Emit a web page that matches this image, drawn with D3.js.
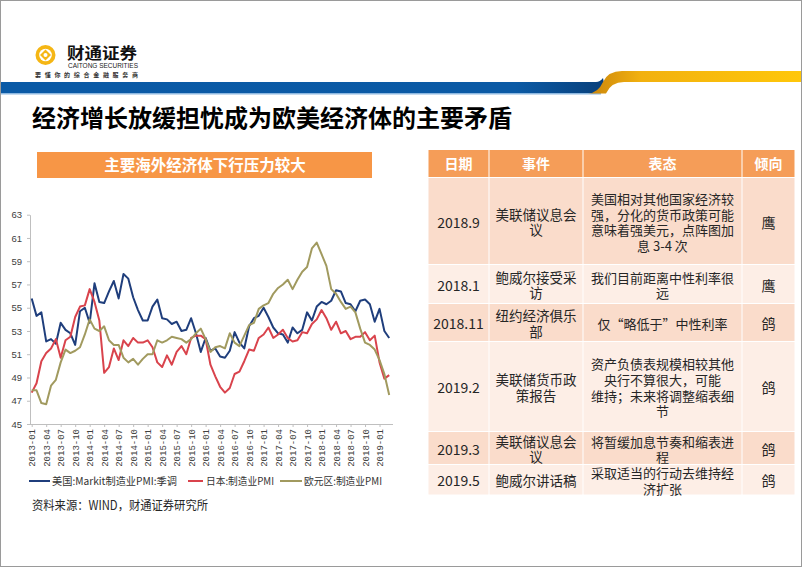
<!DOCTYPE html>
<html><head><meta charset="utf-8">
<script src="https://cdn.jsdelivr.net/npm/d3@7"></script>
<style>html,body{margin:0;padding:0;background:#fff;}svg{display:block;}</style>
</head><body><svg id="c" width="802" height="567"></svg>
<script>
// ---------- DATA ----------
const months = [
"2013-01","2013-02","2013-03","2013-04","2013-05","2013-06","2013-07","2013-08","2013-09","2013-10","2013-11","2013-12",
"2014-01","2014-02","2014-03","2014-04","2014-05","2014-06","2014-07","2014-08","2014-09","2014-10","2014-11","2014-12",
"2015-01","2015-02","2015-03","2015-04","2015-05","2015-06","2015-07","2015-08","2015-09","2015-10","2015-11","2015-12",
"2016-01","2016-02","2016-03","2016-04","2016-05","2016-06","2016-07","2016-08","2016-09","2016-10","2016-11","2016-12",
"2017-01","2017-02","2017-03","2017-04","2017-05","2017-06","2017-07","2017-08","2017-09","2017-10","2017-11","2017-12",
"2018-01","2018-02","2018-03","2018-04","2018-05","2018-06","2018-07","2018-08","2018-09","2018-10","2018-11","2018-12",
"2019-01","2019-02","2019-03"];
const tickLabels = ["2013-01","2013-04","2013-07","2013-10","2014-01","2014-04","2014-07","2014-10",
"2015-01","2015-04","2015-07","2015-10","2016-01","2016-04","2016-07","2016-10",
"2017-01","2017-04","2017-07","2017-10","2018-01","2018-04","2018-07","2018-10","2019-01"];
const usPMI = [55.8,54.3,54.6,52.1,52.3,51.9,53.7,53.1,52.8,51.8,54.7,55.0,
53.7,57.1,55.5,55.4,56.4,57.3,55.8,57.9,57.5,55.9,54.8,53.9,
53.9,55.1,55.7,54.1,54.0,53.6,53.8,53.0,53.1,54.1,52.8,51.2,
52.4,51.3,51.5,50.8,50.7,51.3,52.9,52.0,51.5,53.4,54.1,54.3,
55.0,54.2,53.3,52.8,52.7,52.0,53.3,52.8,53.1,54.6,53.9,55.1,
55.5,55.3,55.6,56.5,56.4,55.4,55.3,54.7,55.6,55.7,55.3,53.8,
54.9,53.0,52.4];
const jpPMI = [47.7,48.5,50.4,51.1,51.5,52.3,50.7,52.2,52.5,54.2,55.1,55.2,
56.6,55.5,53.9,49.4,49.9,51.5,50.5,52.2,51.7,52.4,52.0,52.0,
52.2,51.6,50.3,49.9,50.9,50.1,51.2,51.7,51.0,52.4,52.6,52.6,
52.3,50.1,49.1,48.2,47.7,48.1,49.3,49.5,50.4,51.4,51.3,52.4,
52.7,53.3,52.4,52.7,53.1,52.4,52.1,52.2,52.9,52.8,53.6,54.0,
54.8,54.1,53.1,53.8,52.8,53.0,52.3,52.5,52.5,52.9,52.2,52.6,
50.3,48.9,49.2];
const euPMI = [47.9,47.9,46.8,46.7,48.3,48.8,50.3,51.4,51.1,51.3,51.6,52.7,
54.0,53.2,53.0,53.4,52.2,51.8,51.8,50.7,50.3,50.6,50.1,50.6,
51.0,51.0,52.2,52.0,52.2,52.5,52.4,52.3,52.0,52.3,52.8,53.2,
52.3,51.2,51.6,51.7,51.5,52.8,52.0,51.7,52.6,53.5,53.7,54.9,
55.2,55.4,56.2,56.7,57.0,57.4,56.6,57.4,58.1,58.5,60.1,60.6,
59.6,58.6,56.6,56.2,55.5,54.9,55.1,54.6,53.2,52.0,51.8,51.4,
50.5,49.3,47.5];
const seriesNames = ["美国:Markit制造业PMI:季调","日本:制造业PMI","欧元区:制造业PMI"];
const yTicks = [45,47,49,51,53,55,57,59,61,63];

const tableHead = ["日期","事件","表态","倾向"];
const tDates = ["2018.9","2018.1","2018.11","2019.2","2019.3","2019.5"];
const tEvents = [["美联储议息会","议"],["鲍威尔接受采","访"],["纽约经济俱乐","部"],["美联储货币政","策报告"],["美联储议息会","议"],["鲍威尔讲话稿"]];
const tStatements = [["美国相对其他国家经济较","强，分化的货币政策可能","意味着强美元，点阵图加","息 3-4 次"],
["我们目前距离中性利率很","远"],["仅“略低于”中性利率"],
["资产负债表规模相较其他","央行不算很大，可能","维持；未来将调整缩表细","节"],
["将暂缓加息节奏和缩表进","程"],["采取适当的行动去维持经","济扩张"]];
const tStances = ["鹰","鹰","鸽","鸽","鸽","鸽"];

// ---------- LAYOUT ----------
const CJK = "'Noto Sans CJK SC','Noto Sans',sans-serif";
const svg = d3.select("#c");
const colors = ["#1F3E7C","#D9434C","#A19A5F"];

// frame
svg.append("rect").attr("x",0.5).attr("y",0.5).attr("width",801).attr("height",566)
  .attr("fill","#fff").attr("stroke","#9a9a9a");

// header band
const defs = svg.append("defs");
const yg = defs.append("linearGradient").attr("id","yg").attr("x1","0").attr("x2","1");
yg.append("stop").attr("offset","0").attr("stop-color","#C9840C");
yg.append("stop").attr("offset","0.25").attr("stop-color","#F2B10F");
yg.append("stop").attr("offset","1").attr("stop-color","#FFC70A");
const bg = defs.append("linearGradient").attr("id","bg").attr("x1","0").attr("x2","1");
bg.append("stop").attr("offset","0").attr("stop-color","#0A5AA6");
bg.append("stop").attr("offset","0.85").attr("stop-color","#0B5AA5");
bg.append("stop").attr("offset","1").attr("stop-color","#083F7A");
svg.append("rect").attr("x",1).attr("y",93).attr("width",600).attr("height",1.5).attr("fill","#8DB8E0");
svg.append("path").attr("d","M1,82 L596,82 Q600,82 603,78 L606,93 L1,93 Z").attr("fill","url(#bg)");
svg.append("path").attr("d","M588,93.5 Q598,93 603,82 Q608,71 622,71 L801,71 L801,82 L624,82 Q611,82 606,93.5 Z").attr("fill","url(#yg)");

// logo
const lg = svg.append("g");
lg.append("circle").attr("cx",45.5).attr("cy",55).attr("r",10).attr("fill","#F5B614");
lg.append("circle").attr("cx",45.5).attr("cy",55).attr("r",6.3).attr("fill","#fff");
lg.append("path").attr("d","M45.5,49.5 L51,55 L45.5,60.5 L40,55 Z").attr("fill","#F5B614");
lg.append("circle").attr("cx",45.5).attr("cy",55).attr("r",2).attr("fill","#fff");
lg.append("text").attr("x",67).attr("y",58.5).attr("font-family",CJK).attr("font-weight","bold")
  .attr("font-size",15.5).attr("fill","#111").attr("textLength",70).attr("lengthAdjust","spacingAndGlyphs").text("财通证券");
lg.append("text").attr("x",68).attr("y",68).attr("font-family","'Liberation Sans',Arial,sans-serif")
  .attr("font-size",6.5).attr("fill","#222").attr("textLength",70).attr("lengthAdjust","spacingAndGlyphs").text("CAITONG SECURITIES");
lg.append("text").attr("x",35).attr("y",77).attr("font-family",CJK).attr("font-weight","bold")
  .attr("font-size",6).attr("fill","#333").attr("textLength",103).attr("lengthAdjust","spacing").text("要懂你的综合金融服务商");

// title
svg.append("text").attr("x",32).attr("y",127).attr("font-family",CJK).attr("font-weight","bold")
  .attr("font-size",24).attr("fill","#000").text("经济增长放缓担忧成为欧美经济体的主要矛盾");

// chart title box
svg.append("rect").attr("x",37).attr("y",152).attr("width",335).attr("height",26).attr("fill","#F79646");
svg.append("text").attr("x",205).attr("y",170.5).attr("text-anchor","middle").attr("font-family",CJK)
  .attr("font-weight","bold").attr("font-size",15.5).attr("fill","#fff").text("主要海外经济体下行压力较大");

// ---------- CHART ----------
const x = d3.scaleLinear().domain([0, months.length-1]).range([31.7, 389.2]);
const y = d3.scaleLinear().domain([45,63]).range([424, 214.7]);

const yAxis = svg.append("g").attr("transform","translate(30,0)")
  .call(d3.axisLeft(y).tickValues(yTicks).tickSize(3).tickSizeOuter(0).tickFormat(d3.format("d")));
yAxis.select(".domain").attr("stroke","#BFBFBF");
yAxis.selectAll(".tick line").attr("stroke","#BFBFBF");
yAxis.selectAll(".tick text").attr("x",-8).attr("font-family","'Liberation Sans',Arial,sans-serif")
  .attr("font-size",9.5).attr("fill","#404040");

const tickIdx = tickLabels.map(t => months.indexOf(t));
const xAxis = svg.append("g").attr("transform","translate(0,424)")
  .call(d3.axisBottom(x).tickValues(tickIdx).tickSize(3).tickSizeOuter(0).tickFormat(i => months[i]));
xAxis.select(".domain").attr("d","M30,0.5H393").attr("stroke","#BFBFBF");
xAxis.selectAll(".tick line").attr("stroke","#BFBFBF");
xAxis.selectAll(".tick text").attr("transform","rotate(-90)").attr("text-anchor","end")
  .attr("x",-5).attr("y",0).attr("dy","0.33em")
  .attr("font-family","'Liberation Mono','DejaVu Sans Mono',monospace").attr("font-size",9).attr("fill","#404040");

const line = d3.line().x((d,i)=>x(i)).y(d=>y(d));
[usPMI, jpPMI, euPMI].forEach((s,k)=>{
  svg.append("path").datum(s).attr("d",line).attr("fill","none").attr("stroke",colors[k])
    .attr("stroke-width",2).attr("stroke-linejoin","round");
});

// legend
const legPos = [{x1:29,x2:50,tx:52,tl:125},{x1:188,x2:203,tx:206,tl:68},{x1:280,x2:302,tx:304,tl:78}];
seriesNames.forEach((n,k)=>{
  const p = legPos[k];
  svg.append("line").attr("x1",p.x1).attr("x2",p.x2).attr("y1",481).attr("y2",481)
    .attr("stroke",colors[k]).attr("stroke-width",2);
  svg.append("text").attr("x",p.tx).attr("y",484.5).attr("font-family",CJK).attr("font-size",10)
    .attr("fill","#333").attr("textLength",p.tl).attr("lengthAdjust","spacingAndGlyphs").text(n);
});

// source
svg.append("text").attr("x",32).attr("y",509.5).attr("font-family",CJK).attr("font-size",12.5)
  .attr("fill","#262626").attr("textLength",176).attr("lengthAdjust","spacingAndGlyphs").text("资料来源：WIND，财通证券研究所");

// ---------- TABLE ----------
const colX = [428,489,583,742,795];
const rowY = [150,177.5,264.5,303.5,341.5,431.5,464.5,495];
const g = svg.append("g");
const fs = 13, lh = 15.6;
function cellText(lines, cx, cy, opts={}){
  const n = lines.length;
  lines.forEach((t,i)=>{
    g.append("text").attr("x",cx).attr("y", cy - (n-1)*lh/2 + i*lh + 0.37*(opts.fs||fs))
      .attr("text-anchor","middle").attr("font-family",CJK).attr("font-size",opts.fs||fs)
      .attr("font-weight",opts.bold?"bold":"normal").attr("fill",opts.color||"#262626").text(t);
  });
}
// header
for(let c=0;c<4;c++){
  g.append("rect").attr("x",colX[c]+0.5).attr("y",rowY[0]).attr("width",colX[c+1]-colX[c]-1)
    .attr("height",rowY[1]-rowY[0]-0.5).attr("fill","#F59D58");
  cellText([tableHead[c]], (colX[c]+colX[c+1])/2, (rowY[0]+rowY[1])/2, {bold:true,color:"#fff",fs:14});
}
tDates.forEach((d,r)=>{
  const y0 = rowY[r+1]+0.5, y1 = rowY[r+2]-0.5;
  const fill = r%2===0 ? "#FADCCB" : "#FDEEE6";
  for(let c=0;c<4;c++){
    g.append("rect").attr("x",colX[c]+0.5).attr("y",y0).attr("width",colX[c+1]-colX[c]-1)
      .attr("height",y1-y0).attr("fill",fill);
  }
  const cy = (y0+y1)/2 + 1.5;
  cellText([d], (colX[0]+colX[1])/2, cy, {fs:14});
  cellText(tEvents[r], (colX[1]+colX[2])/2, cy, {fs:13.5});
  cellText(tStatements[r], (colX[2]+colX[3])/2, cy);
  cellText([tStances[r]], (colX[3]+colX[4])/2, cy, {fs:14});
});
</script></body></html>
